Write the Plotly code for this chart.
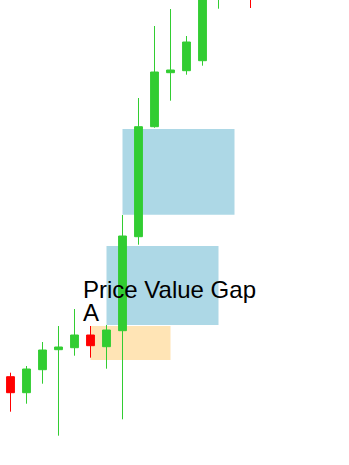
import plotly.graph_objects as go

idx = list(range(16))
opens  = [108.83, 107.23, 109.53, 111.53, 111.73, 113.00, 111.83, 113.43, 122.83, 133.83, 139.23, 139.43, 140.43, 148.0, 152.5, 155.5]
highs  = [109.23, 109.90, 112.30, 113.90, 115.60, 113.90, 114.00, 125.00, 136.70, 143.90, 145.60, 142.90, 149.5, 153.5, 156.5, 156.5]
lows   = [105.33, 106.13, 108.13, 102.93, 110.93, 110.73, 109.63, 104.57, 122.03, 133.73, 136.43, 139.03, 139.93, 145.63, 149.5, 145.7]
closes = [107.23, 109.60, 111.50, 111.80, 113.00, 111.93, 113.50, 122.90, 133.83, 139.30, 139.50, 142.30, 148.5, 152.5, 155.5, 151.5]

# zones
zone_x0 = [5, 6, 7]
zone_x1 = [10, 13, 14]
zone_y0 = [110.5, 114.0, 125.03]
zone_y1 = [113.9, 121.9, 133.6]
zone_col = ["#FFE4B5", "#ADD8E6", "#ADD8E6"]

labels = ["Price Value Gap", "A"]
label_x = [4.4, 4.4]
label_y = [117.55, 115.3]

fig = go.Figure()
fig.add_trace(go.Candlestick(
    x=idx, open=opens, high=highs, low=lows, close=closes,
    increasing=dict(line=dict(color="#32CD32", width=1), fillcolor="#32CD32"),
    decreasing=dict(line=dict(color="#FF0000", width=1), fillcolor="#FF0000"),
    showlegend=False, hoverinfo="skip",
))

for a, b, c, d, col in zip(zone_x0, zone_x1, zone_y0, zone_y1, zone_col):
    fig.add_shape(type="rect", x0=a, x1=b, y0=c, y1=d, xref="x", yref="y",
                  fillcolor=col, line_width=0, layer="below")

for t, lx, ly in zip(labels, label_x, label_y):
    fig.add_annotation(x=lx, y=ly, text=t, showarrow=False,
                       xanchor="left", yanchor="middle", xref="x", yref="y",
                       font=dict(family="Liberation Sans, Arial", size=24, color="black"))

fig.update_layout(
    width=349, height=465, margin=dict(l=0, r=0, t=0, b=0),
    paper_bgcolor="white", plot_bgcolor="white",
    xaxis=dict(visible=False, range=[-0.65625, 21.15625], rangeslider=dict(visible=False)),
    yaxis=dict(visible=False, range=[100, 146.5]),
)
fig.write_html("out.html")
